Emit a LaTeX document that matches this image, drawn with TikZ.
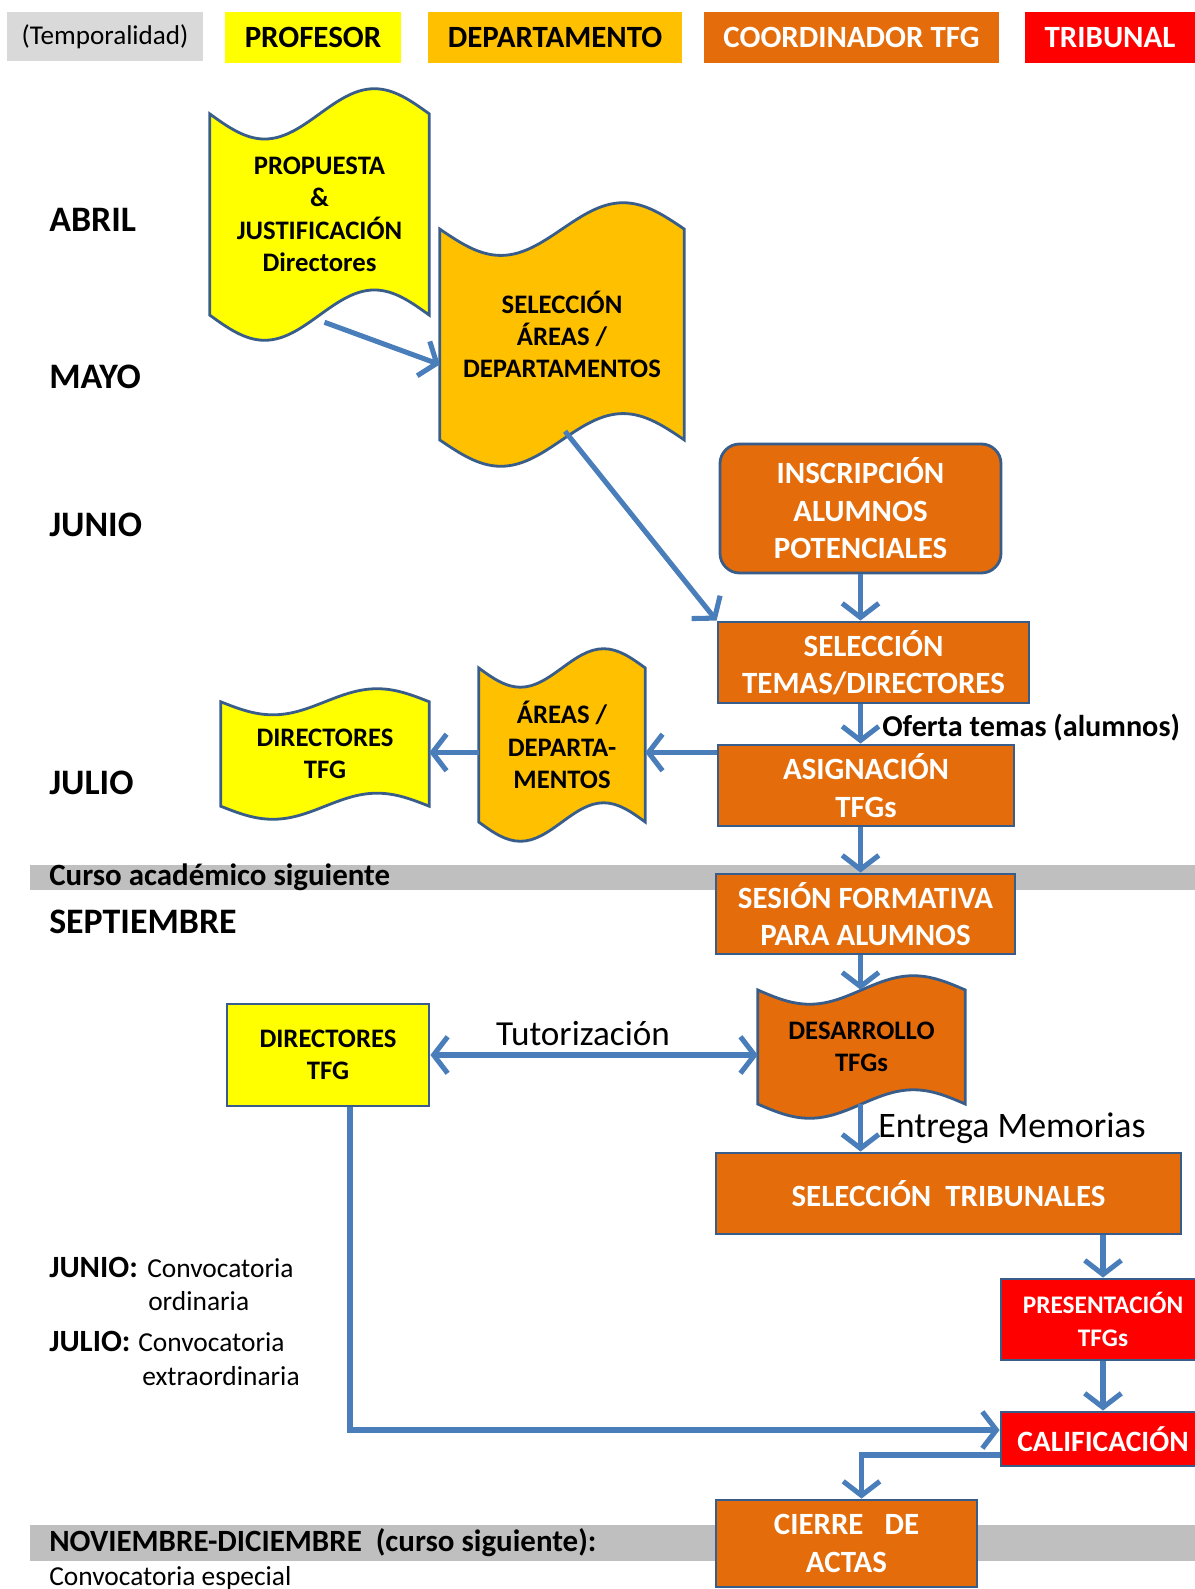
\documentclass[tikz,border=0pt]{standalone}
\usepackage{fontspec}
\setmainfont{Carlito}
\usetikzlibrary{calc,positioning,arrows.meta,backgrounds}

\definecolor{profyellow}{HTML}{FFFF00}
\definecolor{deptorange}{HTML}{FFC000}
\definecolor{coordorange}{HTML}{E46C0A}
\definecolor{tribred}{HTML}{FF0000}
\definecolor{headgray}{HTML}{D9D9D9}
\definecolor{bandgray}{HTML}{BFBFBF}
\definecolor{edgeblue}{HTML}{385D8A}
\definecolor{flowblue}{HTML}{4A7EBB}

\newcommand\bigfont{\fontsize{22}{26.7}\selectfont\bfseries}
\newcommand\tapefont{\fontsize{19}{23}\selectfont\bfseries}

% wavy document outline round a node
\newcommand\tapeshape[2]{%
  \filldraw[draw=edgeblue, line width=2pt, fill=#2] let \p1=(#1.north west), \p2=(#1.south east),
    \n1={\x2-\x1}, \n2={\y1-\y2} in
    (\x1,\y1-0.1*\n2) sin (\x1+0.25*\n1,\y1-0.2*\n2) cos (\x1+0.5*\n1,\y1-0.1*\n2)
    sin (\x1+0.75*\n1,\y1) cos (\x2,\y1-0.1*\n2) -- (\x2,\y2+0.1*\n2)
    sin (\x1+0.75*\n1,\y2+0.2*\n2) cos (\x1+0.5*\n1,\y2+0.1*\n2)
    sin (\x1+0.25*\n1,\y2) cos (\x1,\y2+0.1*\n2) -- cycle;}

\tikzset{
  sz/.style 2 args={minimum width=#1*0.025cm, minimum height=#2*0.025cm},
  legend/.style={inner sep=0, font=\bigfont},
  month/.style={anchor=west, inner sep=0, font=\fontsize{25.5}{30}\selectfont\bfseries},
  tapebox/.style={inner sep=0, align=center, font=\tapefont},
  coordbox/.style={draw=edgeblue, line width=2pt, fill=coordorange, text=white, inner sep=0, align=center, font=\bigfont},
  tribbox/.style={coordbox, fill=tribred},
  note/.style={anchor=base west, inner sep=0, font=\fontsize{19.5}{23}\selectfont},
  flow/.style={draw=flowblue, line width=3.6pt, >={Straight Barb[length=10pt,width=26pt]}},
}

\begin{document}
\begin{tikzpicture}[x=0.025cm, y=-0.025cm]
\path[use as bounding box, clip] (0,0) rectangle (1195,1589);

% legend row
\node[legend, fill=headgray, font=\fontsize{19.3}{23}\selectfont, sz={196}{49}] (temp) at (105,36.5) {(Temporalidad)};
\node[legend, fill=profyellow, sz={176}{51}] (profesor) at (313,37.5) {PROFESOR};
\node[legend, fill=deptorange, sz={254}{51}] (departamento) at (555,37.5) {DEPARTAMENTO};
\node[legend, fill=coordorange, text=white, sz={295}{51}] (coordinador) at (851.5,37.5) {COORDINADOR TFG};
\node[legend, fill=tribred, text=white, sz={170}{51}] (tribunal) at (1110,37.5) {TRIBUNAL};

% months
\node[month] (abril) at (49,220) {ABRIL};
\node[month] (mayo) at (49,377) {MAYO};
\node[month] (junio) at (49,525) {JUNIO};
\node[month] (julio) at (49,783) {JULIO};
\node[month] (septiembre) at (49,922) {SEPTIEMBRE};

% grey bands
\fill[bandgray] (30,865) rectangle (1195,890);
\node[anchor=west, inner sep=0, font=\bigfont] (curso) at (49,877) {Curso académico siguiente};
\fill[bandgray] (30,1525) rectangle (1195,1561);
\node[anchor=west, inner sep=0, font=\bigfont] (novdic) at (49,1543) {NOVIEMBRE-DICIEMBRE\ \ (curso siguiente):};
\node[note] (especial) at (49,1585) {Convocatoria especial};

% convocatorias
\node[anchor=base west, inner sep=0, font=\bigfont] (junioconv) at (49,1277) {JUNIO:};
\node[note] (conv1) at (147,1277) {Convocatoria};
\node[note] (ordinaria) at (148,1310) {ordinaria};
\node[anchor=base west, inner sep=0, font=\bigfont] (julioconv) at (49,1351) {JULIO:};
\node[note] (conv2) at (138,1351) {Convocatoria};
\node[note] (extra) at (142,1385) {extraordinaria};

% steps
\node[tapebox, sz={219}{251}] (prop) at (319.5,214.5) {PROPUESTA\\\&\\JUSTIFICACIÓN\\Directores};
\node[tapebox, sz={244}{263}] (selarea) at (562,334.5) {SELECCIÓN\\ÁREAS /\\DEPARTAMENTOS};
\node[coordbox, rounded corners=14pt, sz={281}{129}] (insc) at (860.5,508.5) {INSCRIPCIÓN\\ALUMNOS\\POTENCIALES};
\node[coordbox, sz={311}{81}] (seltem) at (873.5,662.5) {SELECCIÓN\\TEMAS/DIRECTORES};
\node[coordbox, sz={296}{81}] (asig) at (866,785.5) {ASIGNACIÓN\\TFGs};
\node[tapebox, sz={166}{192}] (areas) at (562,745) {ÁREAS /\\DEPARTA-\\MENTOS};
\node[tapebox, sz={208}{130}] (dir1) at (325,754) {DIRECTORES\\TFG};
\node[coordbox, sz={299}{80}] (sesion) at (865.5,914) {SESIÓN FORMATIVA\\PARA ALUMNOS};
\node[tapebox, sz={207}{142}] (desa) at (861.5,1047) {DESARROLLO\\TFGs};
\node[tapebox, draw=edgeblue, line width=2pt, fill=profyellow, sz={202}{102}] (dir2) at (328,1055) {DIRECTORES\\TFG};
\node[coordbox, sz={465}{81}] (seltrib) at (948.5,1193.5) {SELECCIÓN\ \ TRIBUNALES};
\node[tribbox, font=\fontsize{18}{23}\selectfont\bfseries, sz={204}{81}] (pres) at (1103,1319.5) {PRESENTACIÓN\\TFGs};
\node[tribbox, font=\fontsize{21}{25}\selectfont\bfseries, sz={204}{54}] (calif) at (1103,1439) {CALIFICACIÓN};
\node[coordbox, sz={261}{87}] (cierre) at (846.5,1543.5) {CIERRE\ \ \ DE\\ACTAS};

\begin{scope}[on background layer]
\tapeshape{prop}{profyellow}
\tapeshape{selarea}{deptorange}
\tapeshape{areas}{deptorange}
\tapeshape{dir1}{profyellow}
\tapeshape{desa}{coordorange}
\end{scope}

% labels on connectors
\node[anchor=west, inner sep=0, font=\fontsize{21.5}{25}\selectfont\bfseries] (oferta) at (882,728) {Oferta temas (alumnos)};
\node[inner sep=0, font=\fontsize{25}{30}\selectfont] (tutor) at (583,1034) {Tutorización};
\node[anchor=west, inner sep=0, font=\fontsize{25.5}{30}\selectfont] (entrega) at (878,1128) {Entrega Memorias};

% connectors
\coordinate (asigout) at ([shift={(0,-33)}]asig.west);
\draw[flow,->] ([shift={(5,-18)}]prop.south) -- ([shift={(0,30)}]selarea.west);
\draw[flow,->] ([shift={(3,-35)}]selarea.south) -- (seltem.north west);
\draw[flow,->] (insc.south) -- (insc.south |- seltem.north);
\draw[flow,->] (insc.south |- seltem.south) -- (insc.south |- asig.north);
\draw[flow,->] (asigout) -- (asigout -| areas.east);
\draw[flow,->] (asigout -| areas.west) -- (asigout -| dir1.east);
\draw[flow,->] (insc.south |- asig.south) -- (insc.south |- sesion.north);
\draw[flow,->] (insc.south |- sesion.south) -- ($(insc.south |- desa.north)+(0,14)$);
\draw[flow,<->] (dir2.east) -- (dir2.east -| desa.west);
\draw[flow,->] ($(insc.south |- desa.south)+(0,-14)$) -- (insc.south |- seltrib.north);
\draw[flow,->] (pres.north |- seltrib.south) -- (pres.north);
\draw[flow,->] (pres.south) -- (calif.north);
\draw[flow,->] ([shift={(22,0)}]dir2.south) |- ([shift={(0,-9)}]calif.west);
\draw[flow,->] ([shift={(0,16)}]calif.west) -| ([shift={(15,0)}]cierre.north);
\end{tikzpicture}
\end{document}
